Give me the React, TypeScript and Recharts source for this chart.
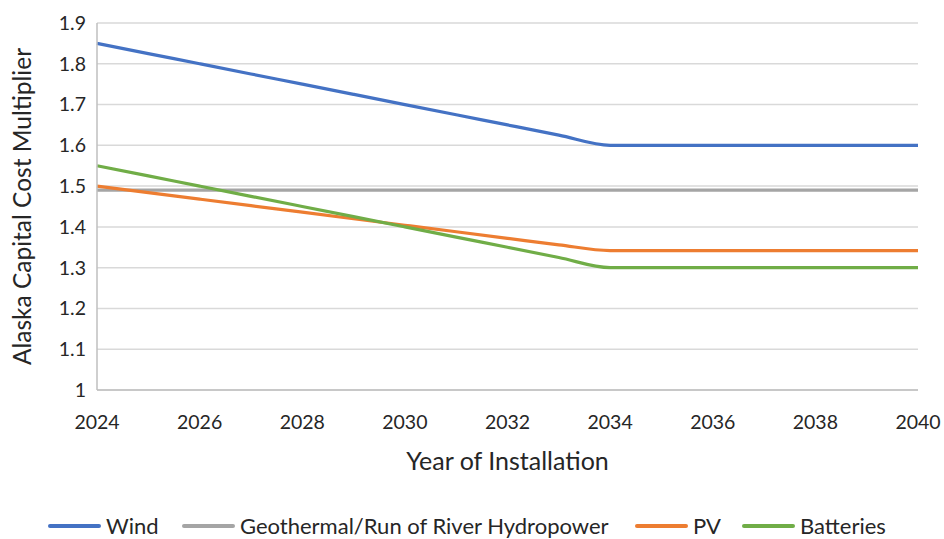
import React from "react";
import { LineChart, Line, XAxis, YAxis, CartesianGrid } from "recharts";

const years = [2024, 2025, 2026, 2027, 2028, 2029, 2030, 2031, 2032, 2033, 2034, 2035, 2036, 2037, 2038, 2039, 2040];
const wind = [1.85, 1.825, 1.8, 1.775, 1.75, 1.725, 1.7, 1.675, 1.65, 1.625, 1.6, 1.6, 1.6, 1.6, 1.6, 1.6, 1.6];
const geothermal = [1.49, 1.49, 1.49, 1.49, 1.49, 1.49, 1.49, 1.49, 1.49, 1.49, 1.49, 1.49, 1.49, 1.49, 1.49, 1.49, 1.49];
const pv = [1.5, 1.484, 1.468, 1.452, 1.436, 1.42, 1.404, 1.388, 1.372, 1.356, 1.342, 1.342, 1.342, 1.342, 1.342, 1.342, 1.342];
const batteries = [1.55, 1.525, 1.5, 1.475, 1.45, 1.425, 1.4, 1.375, 1.35, 1.325, 1.3, 1.3, 1.3, 1.3, 1.3, 1.3, 1.3];
const xTicks = [2024, 2026, 2028, 2030, 2032, 2034, 2036, 2038, 2040];
const yTicks = [1, 1.1, 1.2, 1.3, 1.4, 1.5, 1.6, 1.7, 1.8, 1.9];

const seriesInfo = [
  { key: "wind", name: "Wind", color: "#4472C4" },
  { key: "geothermal", name: "Geothermal/Run of River Hydropower", color: "#A5A5A5" },
  { key: "pv", name: "PV", color: "#ED7D31" },
  { key: "batteries", name: "Batteries", color: "#70AD47" },
];

const data = years.map((y, i) => ({
  year: y,
  wind: wind[i],
  geothermal: geothermal[i],
  pv: pv[i],
  batteries: batteries[i],
}));

const FONT = "Lato, 'Open Sans', sans-serif";
const TEXT = "#262626";

const legendLeft = [48, 182, 635, 742];

const ChartLegend = () => (
  <div style={{ position: "absolute", left: 0, top: 513, width: 944, height: 26, fontFamily: FONT, fontSize: 22, color: TEXT }}>
    {seriesInfo.map((s, i) => (
      <div key={s.key} style={{ position: "absolute", left: legendLeft[i], top: 0, display: "flex", alignItems: "center", whiteSpace: "nowrap", lineHeight: "26px" }}>
        <div style={{ width: 53, height: 3.5, borderRadius: 2, background: s.color, marginRight: 5 }} />
        <span>{s.name}</span>
      </div>
    ))}
  </div>
);

export default function App() {
  return (
    <div style={{ position: "absolute", left: 0, top: 0, width: 944, height: 539, background: "#fff", overflow: "hidden" }}>
      <LineChart width={944} height={539} data={data} margin={{ top: 23, right: 26, bottom: 69, left: 0 }}>
        <CartesianGrid vertical={false} stroke="#D9D9D9" strokeWidth={1.5} />
        <XAxis
          dataKey="year"
          type="number"
          domain={[2024, 2040]}
          ticks={xTicks}
          interval={0}
          height={80}
          tickLine={false}
          tickSize={0}
          tickMargin={25}
          axisLine={{ stroke: "#BFBFBF", strokeWidth: 1.5 }}
          tick={{ fill: TEXT, fontSize: 19.5, fontFamily: FONT }}
          label={{ value: "Year of Installation", position: "insideBottom", offset: 0, fill: TEXT, fontSize: 25, fontFamily: FONT }}
        />
        <YAxis
          type="number"
          domain={[1, 1.9]}
          ticks={yTicks}
          interval={0}
          width={97}
          tickLine={false}
          tickSize={0}
          tickMargin={11}
          axisLine={{ stroke: "#BFBFBF", strokeWidth: 1.5 }}
          tick={{ fill: TEXT, fontSize: 19.5, fontFamily: FONT }}
          label={{ value: "Alaska Capital Cost Multiplier", angle: -90, position: "insideLeft", offset: 22, fill: TEXT, fontSize: 24.5, fontFamily: FONT, style: { textAnchor: "middle" } }}
        />
        {seriesInfo.map((s) => (
          <Line
            key={s.key}
            type="monotone"
            dataKey={s.key}
            name={s.name}
            stroke={s.color}
            strokeWidth={3.2}
            dot={false}
            activeDot={false}
            isAnimationActive={false}
          />
        ))}
      </LineChart>
      <ChartLegend />
    </div>
  );
}
